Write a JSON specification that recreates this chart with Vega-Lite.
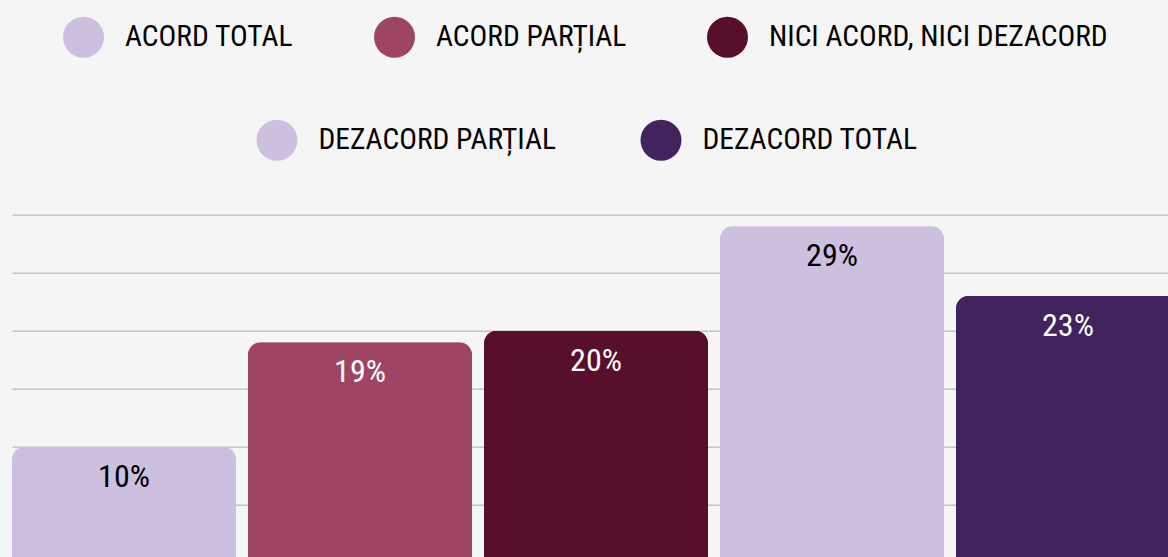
{
  "$schema": "https://vega.github.io/schema/vega-lite/v6.json",
  "autosize": {"type": "none"},
  "width": 1168,
  "height": 348,
  "padding": {"top": 214.7, "left": 12, "right": 0, "bottom": 0},
  "background": "#f5f5f5",
  "config": {
    "view": {"stroke": null},
    "legend": {
      "direction": "horizontal",
      "orient": "none",
      "title": null,
      "symbolType": "circle",
      "symbolSize": 1681,
      "symbolStrokeWidth": 0,
      "symbolOpacity": 1,
      "labelFont": "Roboto Condensed",
      "labelFontSize": 29.5,
      "labelColor": "#000000",
      "labelOffset": 21,
      "labelLimit": 0,
      "columnPadding": 84,
      "padding": 0
    }
  },
  "data": {
    "values": [
      {"cat": "ACORD TOTAL", "value": 0.10},
      {"cat": "ACORD PARȚIAL", "value": 0.19},
      {"cat": "NICI ACORD, NICI DEZACORD", "value": 0.20},
      {"cat": "DEZACORD PARȚIAL", "value": 0.29},
      {"cat": "DEZACORD TOTAL", "value": 0.23}
    ]
  },
  "encoding": {
    "x": {
      "field": "cat",
      "type": "nominal",
      "sort": null,
      "scale": {"paddingInner": 0.0508, "paddingOuter": 0},
      "axis": null
    },
    "y": {
      "field": "value",
      "type": "quantitative",
      "scale": {"domain": [0, 0.3], "nice": false, "zero": true},
      "axis": {
        "values": [0, 0.05, 0.1, 0.15, 0.2, 0.25, 0.3],
        "labels": false,
        "ticks": false,
        "domain": false,
        "title": null,
        "grid": true,
        "gridColor": "#c4c4c4",
        "gridWidth": 1.5
      }
    }
  },
  "layer": [
    {
      "mark": {"type": "bar", "cornerRadiusTopLeft": 13, "cornerRadiusTopRight": 13},
      "encoding": {
        "color": {
          "field": "cat",
          "type": "nominal",
          "scale": {
            "domain": ["ACORD TOTAL", "ACORD PARȚIAL", "NICI ACORD, NICI DEZACORD", "DEZACORD PARȚIAL", "DEZACORD TOTAL"],
            "range": ["#cdbfdf", "#9e4566", "#570f2b", "#cdbfdf", "#42235e"]
          },
          "legend": {
            "values": ["ACORD TOTAL", "ACORD PARȚIAL", "NICI ACORD, NICI DEZACORD"],
            "columnPadding": 80,
            "legendX": 51,
            "legendY": -198
          }
        }
      }
    },
    {
      "mark": {"type": "bar", "cornerRadiusTopLeft": 13, "cornerRadiusTopRight": 13},
      "encoding": {
        "color": {
          "field": "cat",
          "type": "nominal",
          "scale": {
            "domain": ["DEZACORD PARȚIAL", "DEZACORD TOTAL", "ACORD TOTAL", "ACORD PARȚIAL", "NICI ACORD, NICI DEZACORD"],
            "range": ["#cdbfdf", "#42235e", "#cdbfdf", "#9e4566", "#570f2b"]
          },
          "legend": {
            "values": ["DEZACORD PARȚIAL", "DEZACORD TOTAL"],
            "legendX": 244.5,
            "legendY": -95
          }
        }
      }
    },
    {
      "mark": {"type": "text", "dy": 30, "baseline": "middle", "align": "center", "fontSize": 32, "font": "Roboto Condensed"},
      "encoding": {
        "text": {"field": "value", "type": "quantitative", "format": ".0%"},
        "color": {
          "condition": {"test": "indexof(['ACORD TOTAL', 'DEZACORD PARȚIAL'], datum.cat) >= 0", "value": "#000000"},
          "value": "#ffffff"
        }
      }
    }
  ],
  "resolve": {"scale": {"color": "independent"}}
}
